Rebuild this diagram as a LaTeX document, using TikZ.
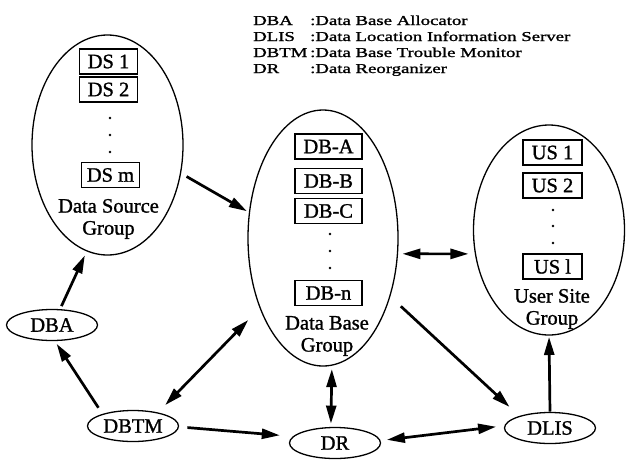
\documentclass[tikz,border=0pt]{standalone}
\usepackage{fontspec}
\setmainfont{Liberation Serif}[FakeBold=1.2]
\usepackage{graphicx}
\usetikzlibrary{shapes.geometric,arrows.meta}
\begin{document}
\begin{tikzpicture}[x=1pt,y=-1pt,
  grp/.style={draw, ellipse, line width=1.3pt, inner sep=0pt, outer sep=0pt},
  box/.style={draw, line width=1.2pt, inner sep=0pt, minimum height=25pt, font=\fontsize{20.5}{22}\selectfont},
  lbl/.style={align=center, font=\fontsize{20.5}{22}\selectfont, inner sep=0pt},
  proc/.style={draw, ellipse, line width=1.3pt, inner sep=0pt, outer sep=0pt, minimum width=91pt, minimum height=31pt, font=\fontsize{20.5}{22}\selectfont},
  dot/.style={circle, fill, inner sep=0pt, minimum size=2.6pt},
  arr/.style={line width=2.7pt, -{Triangle[length=18pt,width=10pt]}},
  darr/.style={line width=2.7pt, {Triangle[length=18pt,width=10pt]}-{Triangle[length=18pt,width=10pt]}},
  leg/.style={anchor=base west, inner sep=0pt, font=\fontsize{13.6}{16}\selectfont},
]
\useasboundingbox (0,0) rectangle (628,459);

% legend
\node[leg] (l1a) at (253,25) {\scalebox{1.38}[1]{DBA}};
\node[leg] (l1b) at (310,25) {\scalebox{1.38}[1]{:Data Base Allocator}};
\node[leg] (l2a) at (253,41) {\scalebox{1.38}[1]{DLIS}};
\node[leg] (l2b) at (310,41) {\scalebox{1.38}[1]{:Data Location Information Server}};
\node[leg] (l3a) at (253,57) {\scalebox{1.38}[1]{DBTM}};
\node[leg] (l3b) at (310,57) {\scalebox{1.38}[1]{:Data Base Trouble Monitor}};
\node[leg] (l4a) at (253,73) {\scalebox{1.38}[1]{DR}};
\node[leg] (l4b) at (310,73) {\scalebox{1.38}[1]{:Data Reorganizer}};

% group ellipses
\node[grp, minimum width=151pt, minimum height=220pt] (ds) at (107.5,145) {};
\node[grp, minimum width=150pt, minimum height=256pt] (db) at (323,238) {};
\node[grp, minimum width=151pt, minimum height=210pt] (us) at (549,230) {};

% data source group
\node[box, minimum width=58pt] (ds1) at (108.5,61.5) {DS 1};
\node[box, minimum width=58pt] (ds2) at (108.5,89.5) {DS 2};
\node[dot] (dsd1) at (110,118) {};
\node[dot] (dsd2) at (110,135) {};
\node[dot] (dsd3) at (110,152) {};
\node[box, minimum width=58pt] (dsm) at (110.5,175) {DS m};
\node[lbl] (dslbl) at (108.5,219) {Data Source\\Group};

% data base group
\node[box, minimum width=67pt] (dba1) at (328.5,146.5) {DB-A};
\node[box, minimum width=67pt] (dbb) at (328.5,181) {DB-B};
\node[box, minimum width=67pt] (dbc) at (328.5,211) {DB-C};
\node[dot] (dbd1) at (330,234) {};
\node[dot] (dbd2) at (330,251) {};
\node[dot] (dbd3) at (330,268) {};
\node[box, minimum width=67pt] (dbn) at (328.5,293) {DB-n};
\node[lbl] (dblbl) at (327,336) {Data Base\\Group};

% user site group
\node[box, minimum width=59pt] (us1) at (552.5,152.5) {US 1};
\node[box, minimum width=59pt] (us2) at (552.5,185.5) {US 2};
\node[dot] (usd1) at (553,210) {};
\node[dot] (usd2) at (553,226) {};
\node[dot] (usd3) at (553,243) {};
\node[box, minimum width=59pt] (usl) at (552.5,266.5) {US l};
\node[lbl] (uslbl) at (552,309) {User Site\\Group};

% process ellipses
\node[proc] (dba) at (52,325) {DBA};
\node[proc] (dbtm) at (133,426) {DBTM};
\node[proc] (dr) at (335,443) {DR};
\node[proc] (dlis) at (550,428) {DLIS};

% connectors
\draw[arr, shorten <=4pt, shorten >=5pt] (dba.63) -- (ds.259);
\draw[arr, shorten <=8pt, shorten >=4pt] (dbtm.159) -- (dba.-81);
\draw[arr, shorten <=7pt, shorten >=3pt] (ds.-21) -- (db.161);
\draw[darr, shorten <=11pt, shorten >=17pt] (dbtm.28) -- (db.228);
\draw[darr, shorten <=4pt, shorten >=4pt] (db.-86) -- (dr.105);
\draw[arr, shorten <=9pt, shorten >=14pt] (dbtm.-1) -- (dr.171);
\draw[darr, shorten <=7pt, shorten >=9pt] (dr.3) -- (dlis.177);
\draw[arr, shorten <=15pt, shorten >=14pt] (db.-41) -- (dlis.159);
\draw[arr, shorten <=1pt, shorten >=2pt] (dlis.north) -- (us.south);
\draw[darr, shorten <=5pt, shorten >=7pt] (db.-12) -- (us.198);
\end{tikzpicture}
\end{document}
